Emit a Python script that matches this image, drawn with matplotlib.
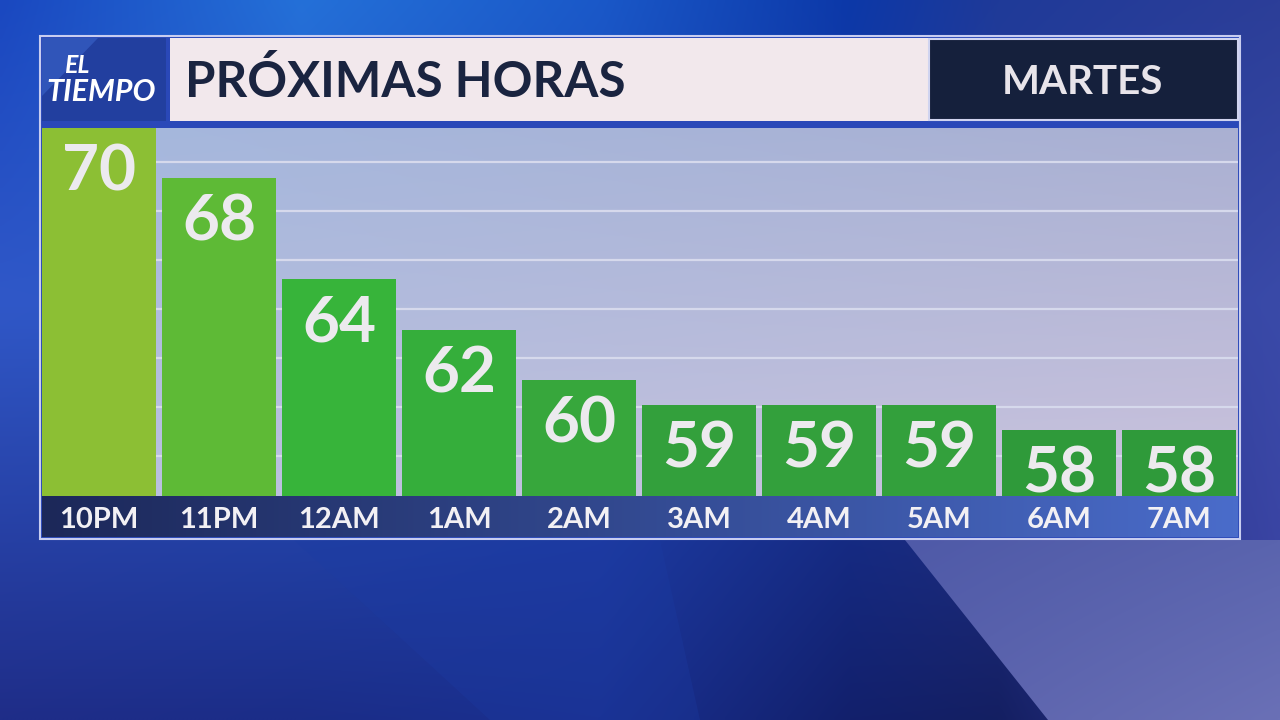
import numpy as np
import matplotlib

matplotlib.use("Agg")
import matplotlib.pyplot as plt
from matplotlib.patches import Rectangle, Polygon
from matplotlib.colors import to_rgb

plt.rcParams["font.family"] = ["Lato", "DejaVu Sans"]

hours = ["10PM", "11PM", "12AM", "1AM", "2AM", "3AM", "4AM", "5AM", "6AM", "7AM"]
temps = [70, 68, 64, 62, 60, 59, 59, 59, 58, 58]
bar_colors = ["#8cbf34", "#5eba36", "#37b43a", "#35ae3b", "#37a73c",
              "#33a03c", "#33a03c", "#33a03c", "#2f9a3a", "#2f9a3a"]
title = "PRÓXIMAS HORAS"
day = "MARTES"

W, H = 1280, 720
YMIN, YMAX = 55.4, 70


def hex_rows(nodes_x, colors, xs):
    rgb = np.array([to_rgb(c) for c in colors])
    return np.stack([np.interp(xs, nodes_x, rgb[:, k]) for k in range(3)], axis=-1)


def gradient_2d(shape, tl, tr, bl, br):
    h, w = shape
    u = np.linspace(0, 1, w)[None, :, None]
    v = np.linspace(0, 1, h)[:, None, None]
    tl, tr, bl, br = (np.array(to_rgb(c)) for c in (tl, tr, bl, br))
    top = tl * (1 - u) + tr * u
    bot = bl * (1 - u) + br * u
    return top * (1 - v) + bot * v


fig = plt.figure(figsize=(12.8, 7.2), dpi=100)

# ---- background, drawn in pixel coordinates
bg = fig.add_axes([0, 0, 1, 1])
bg.set_xlim(0, W)
bg.set_ylim(H, 0)
bg.axis("off")

xs = np.linspace(0, W, 320)
node_x = [0, 300, 600, 850, 1000, 1280]
row_top = hex_rows(node_x, ["#1a48c0", "#2470d8", "#1a58c8", "#0c38a8", "#1f3a98", "#2c3e98"], xs)
row_mid = hex_rows(node_x, ["#3058c8", "#2a58c8", "#2048b8", "#1a38a0", "#2a3ea0", "#3a4aa8"], xs)
row_bot = hex_rows(node_x, ["#1f2d88", "#1b2d88", "#1a3090", "#12206c", "#141f62", "#3a40a0"], xs)
ys = np.linspace(0, H, 180)
img = np.empty((len(ys), len(xs), 3))
for j, y in enumerate(ys):
    if y <= 300:
        t = y / 300
        img[j] = row_top * (1 - t) + row_mid * t
    else:
        t = (y - 300) / 420
        img[j] = row_mid * (1 - t) + row_bot * t
bg.imshow(img, extent=(0, W, H, 0), aspect="auto", interpolation="bilinear", zorder=0)

bg.add_patch(Polygon([(294, 540), (660, 540), (700, 720), (490, 720)],
                     closed=True, facecolor="#1c3ca4", alpha=0.3, lw=0, zorder=1))
# lavender sweep, bottom right
lav = gradient_2d((40, 80), "#4f5aa8", "#5a64ae", "#5a62ac", "#6a70b6")
lav_img = bg.imshow(lav, extent=(905, 1280, 720, 540), aspect="auto",
                    interpolation="bilinear", zorder=1)
lav_img.set_clip_path(Polygon([(905, 540), (1280, 540), (1280, 720), (1048, 720)],
                              closed=True, transform=bg.transData))

# ---- widget frame and header
bg.add_patch(Rectangle((40, 36), 1200, 503, facecolor="#2a48b8",
                       edgecolor="#c8cdf0", lw=1.5, zorder=2))
bg.add_patch(Rectangle((42, 38), 124, 83, facecolor="#223f9f", lw=0, zorder=3))
bg.add_patch(Polygon([(42, 38), (98, 38), (42, 96)], closed=True,
                     facecolor="#3a64cc", alpha=0.6, lw=0, zorder=3))
bg.add_patch(Rectangle((170, 38), 758, 83, facecolor="#f2e8ec", lw=0, zorder=3))
bg.add_patch(Rectangle((929, 39), 309, 81, facecolor="#15203c",
                       edgecolor="#d0d4f0", lw=1.5, zorder=3))

bg.text(64, 73, "EL", color="white", fontsize=18, fontweight="bold",
        style="italic", ha="left", va="baseline", zorder=4)
bg.text(46, 101, "TIEMPO", color="white", fontsize=22, fontweight="bold",
        style="italic", ha="left", va="baseline", zorder=4)
bg.text(185, 97, title, color="#1a2440", fontsize=35.5, fontweight="bold",
        ha="left", va="baseline", zorder=4)
bg.text(1082, 94, day, color="#e8e4ea", fontsize=29, fontweight="bold",
        ha="center", va="baseline", zorder=4)

# ---- chart panel
ax = fig.add_axes([42 / W, 1 - 496 / H, 1196 / W, 368 / H])
x = np.arange(len(temps))
ax.set_xlim(-0.475, len(temps) - 0.51)
ax.set_ylim(YMIN, YMAX)
ax.imshow(gradient_2d((60, 120), "#a5b8de", "#aab0d2", "#b9c0e0", "#cbc3dd"),
          extent=(-0.475, len(temps) - 0.51, YMIN, YMAX), aspect="auto",
          interpolation="bilinear", zorder=0)
for f in np.linspace(0.109, 0.907, 7):
    ax.axhline(YMIN + f * (YMAX - YMIN), color="#d6d9ec", lw=1.6, zorder=1)

ax.bar(x, temps, width=0.95, color=bar_colors, zorder=2)
for xi, t in zip(x, temps):
    ax.annotate(str(t), (xi, t), xytext=(0, -45), textcoords="offset points",
                ha="center", va="baseline", fontsize=46, fontweight="bold",
                color="#eceaee", zorder=3)
ax.axis("off")

# ---- hour strip
ax_lab = fig.add_axes([42 / W, 1 - 537 / H, 1196 / W, 41 / H])
ax_lab.set_xlim(ax.get_xlim())
ax_lab.set_ylim(0, 1)
ax_lab.imshow(gradient_2d((4, 120), "#1c2859", "#4a6cca", "#1c2859", "#4a6cca"),
              extent=(*ax.get_xlim(), 0, 1), aspect="auto",
              interpolation="bilinear", zorder=0)
for xi, h in zip(x, hours):
    ax_lab.text(xi, 0.22, h, ha="center", va="baseline", fontsize=21,
                fontweight="bold", color="#f2f0f4")
ax_lab.axis("off")

fig.savefig("out.png", dpi=100)
